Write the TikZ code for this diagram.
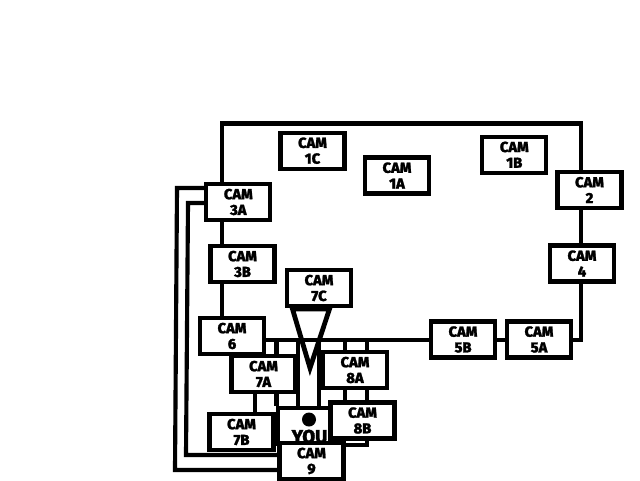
\documentclass[tikz,border=0pt]{standalone}
\usepackage{fontspec}
\usetikzlibrary{backgrounds}
\newfontfamily\camfont[FakeBold=1.5]{Fira Sans ExtraBold}
\tikzset{
  x=0.75pt,y=-0.75pt,
  wire/.style={draw=black,line width=3.1pt,line join=miter},
  cam/.style={draw=black,fill=white,line width=3.1pt,minimum width=48pt,minimum height=27pt,inner sep=0pt,align=center,
    font=\camfont\fontsize{11pt}{11.8pt}\selectfont},
  youbox/.style={draw=black,fill=white,line width=3.1pt,minimum width=48pt,minimum height=27pt,inner sep=0pt},
}
\begin{document}
\begin{tikzpicture}
\useasboundingbox (0,0) rectangle (640,480);
\coordinate (tl) at (222,123.5);
\coordinate (tr) at (581,123.5);
\coordinate (br) at (581,340);
\coordinate (wa) at (177,188);
\coordinate (wb) at (175,470);
\coordinate (wc) at (188,203);
\coordinate (wd) at (186,455);
\coordinate (c1) at (276.5,340);
\coordinate (c2) at (298,340);
\coordinate (c3) at (319,340);
\coordinate (c4) at (345,340);
\coordinate (c5) at (367,340);
\coordinate (c6) at (255,392);
\coordinate (c7) at (367,445);
\node[cam] (c1C) at (312.5,150.7) {CAM\\1C};
\node[cam] (c1A) at (397,175.5) {CAM\\1A};
\node[cam] (c1B) at (514.3,154.7) {CAM\\1B};
\node[cam] (c2n) at (589.5,190) {CAM\\2};
\node[cam] (c4n) at (582,263.5) {CAM\\4};
\node[cam] (c5A) at (539,339.5) {CAM\\5A};
\node[cam] (c5B) at (463,339.5) {CAM\\5B};
\node[cam] (c3A) at (238.3,202) {CAM\\3A};
\node[cam] (c3B) at (242.5,264) {CAM\\3B};
\node[cam] (c7C) at (319,288) {CAM\\7C};
\node[cam] (c6n) at (232,336) {CAM\\6};
\node[cam] (c7A) at (263.5,374) {CAM\\7A};
\node[cam] (c8A) at (355,370) {CAM\\8A};
\node[cam] (c7B) at (241.5,432) {CAM\\7B};
\node[youbox] (you) at (310,426) {};
\node[fill=black,circle,minimum size=10.5pt,inner sep=0pt] (dot) at (309,419.5) {};
\node[font=\camfont\fontsize{14pt}{14pt}\selectfont,anchor=base] (youtxt) at (309.5,443) {YOU};
\node[cam] (c8B) at (362.5,420.5) {CAM\\8B};
\node[cam] (c9n) at (311.5,461) {CAM\\9};
\begin{pgfonlayer}{background}
  \draw[wire] (tl |- c3A.north) -- (tl) -- (tr) -- (tr |- c2n.north);
  \draw[wire] (tr |- c2n.south) -- (tr |- c4n.north);
  \draw[wire] (tr |- c4n.south) -- (br) -- (c5A.east |- br);
  \draw[wire] (c5A.west |- br) -- (c5B.east |- br);
  \draw[wire] (c5B.west |- br) -- (c6n.east |- br);
  \draw[wire] (tl |- c3A.south) -- (tl |- c3B.north);
  \draw[wire] (tl |- c3B.south) -- (tl |- c6n.north);
  \draw[wire] (c3A.west |- wa) -- (wa) -- (wb) -- (c9n.west |- wb);
  \draw[wire] (c3A.west |- wc) -- (wc) -- (wd) -- (c9n.west |- wd);
  \draw[wire] (c1) -- (c1 |- c7A.north);
  \draw[wire] (c1 |- c7A.south) -- (c1 |- you.north);
  \draw[wire] (c6 |- c7A.south) -- (c6 |- c7B.north);
  \draw[wire] (c2) -- (c2 |- you.north);
  \draw[wire] (c3) -- (c3 |- you.north);
  \draw[wire] (c4) -- (c4 |- c8A.north);
  \draw[wire] (c5) -- (c5 |- c8A.north);
  \draw[wire] (c4 |- c8A.south) -- (c4 |- c8B.north);
  \draw[wire] (c5 |- c8A.south) -- (c7) -- (c9n.east |- c7);
  \draw[wire,line width=3.6pt,miter limit=20] (292.5,309) -- (329.5,309) -- (310,368) -- cycle;
\end{pgfonlayer}
\end{tikzpicture}
\end{document}
